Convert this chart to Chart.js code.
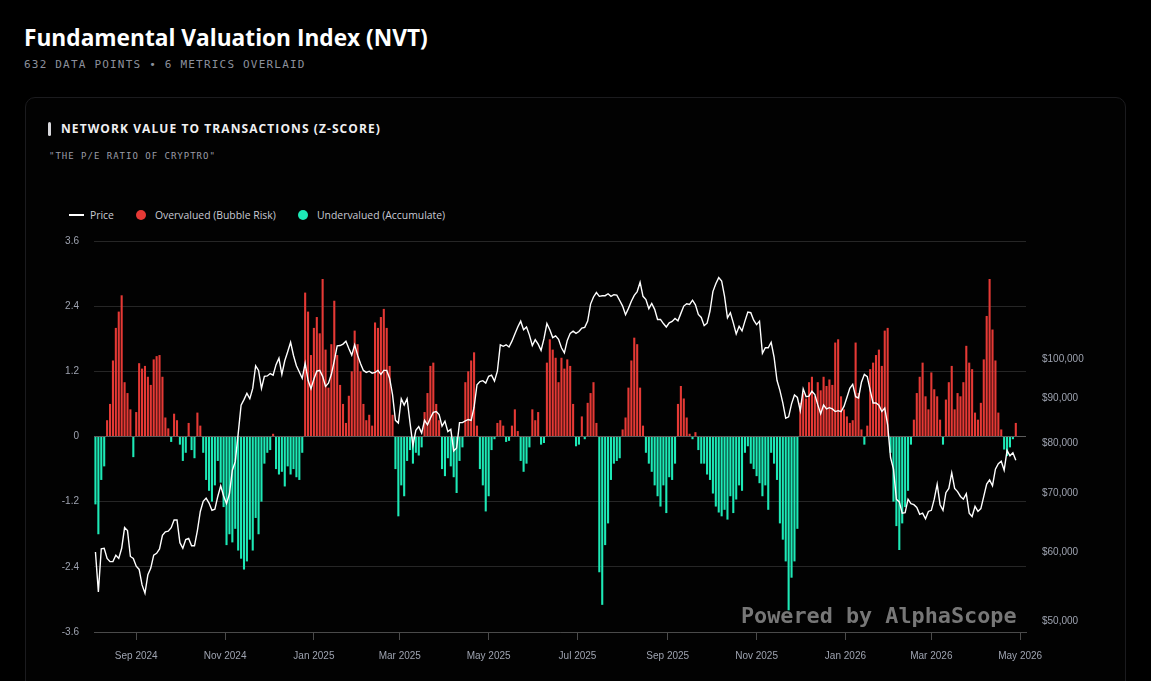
<!DOCTYPE html>
<html>
<head>
<meta charset="utf-8">
<script src="https://cdn.jsdelivr.net/npm/chart.js@4.4.1/dist/chart.umd.min.js"></script>
<style>
  html, body { margin: 0; padding: 0; background: #000; }
  body { width: 1151px; height: 681px; overflow: hidden; position: relative; font-family: "Open Sans", sans-serif; }
  .abs { position: absolute; white-space: nowrap; }
  #title { left: 24px; top: 23px; font-size: 22.7px; line-height: 30px; font-weight: 700; color: #fff; }
  #sub { left: 24px; top: 58px; font: 11px/14px "DejaVu Sans Mono", monospace; letter-spacing: 1.2px; color: #8c909c; }
  #card { left: 25px; top: 97px; width: 1099px; height: 640px; border: 1px solid #1b1b1e; border-radius: 10px; background: #020202; }
  #bar { left: 48px; top: 122px; width: 3px; height: 14px; background: #d8d8dc; border-radius: 2px; }
  #cardTitle { left: 61px; top: 121px; font-size: 12px; line-height: 16px; font-weight: 700; letter-spacing: 1.08px; color: #f0f0f2; }
  #quote { left: 49px; top: 150px; font: 9px/12px "DejaVu Sans Mono", monospace; letter-spacing: 1px; color: #9a9ca6; }
  .leg { top: 208px; font-size: 10.4px; line-height: 14px; color: #c8cad2; }
  .dot { position: absolute; width: 10px; height: 10px; border-radius: 50%; top: 210px; }
  #wrap { position: absolute; left: 30px; top: 219px; width: 1090px; height: 462px; }
  #mark { left: 741px; top: 605px; font: bold 21.8px/22px "DejaVu Sans Mono", monospace; color: #777; }
</style>
</head>
<body>
<div id="card" class="abs"></div>
<div id="title" class="abs">Fundamental Valuation Index (NVT)</div>
<div id="sub" class="abs">632 DATA POINTS • 6 METRICS OVERLAID</div>
<div id="bar" class="abs"></div>
<div id="cardTitle" class="abs">NETWORK VALUE TO TRANSACTIONS (Z-SCORE)</div>
<div id="quote" class="abs">"THE P/E RATIO OF CRYPTRO"</div>

<div class="abs" style="left:69px;top:214px;width:15px;height:2px;background:#fff"></div>
<div class="abs leg" style="left:90px">Price</div>
<div class="dot" style="left:136px;background:#e53935"></div>
<div class="abs leg" style="left:155px">Overvalued (Bubble Risk)</div>
<div class="dot" style="left:298px;background:#1de9b6"></div>
<div class="abs leg" style="left:317px">Undervalued (Accumulate)</div>

<div id="wrap"><canvas id="nvt"></canvas></div>
<div id="mark" class="abs">Powered by AlphaScope</div>

<script>
// one point every 2 days starting here
const START = '2024-08-04'
const STEP_DAYS = 2
const X_MIN = '2024-08-03'
const X_MAX = '2026-05-05'

// NVT z-score
const zScore = [
  -1.25, -1.8, -0.8, -0.55, 0.3, 0.6, 1.4, 2.0, 2.3, 2.6,
  1.0, 0.8, 0.5, -0.38, 0.45, 1.35, 1.25, 1.3, 1.1, 0.95,
  1.42, 1.48, 1.5, 1.1, 0.35, 0.15, -0.1, 0.42, 0.3, -0.15,
  -0.45, -0.3, 0.25, -0.25, -0.4, 0.44, 0.2, -0.3, -0.8, -1.0,
  -1.2, -0.9, -0.45, -0.85, -1.3, -2.0, -1.8, -1.95, -1.7, -2.1,
  -2.25, -2.45, -2.3, -1.9, -2.1, -1.5, -1.8, -1.2, -0.5, -0.3,
  -0.25, 0.05, -0.6, -0.7, -0.65, -0.92, -0.55, -0.7, -0.6, -0.75,
  -0.8, -0.3, 2.65, 2.3, 1.5, 2.0, 2.2, 1.9, 2.9, 1.6,
  0.9, 1.7, 2.5, 1.5, 0.95, 0.6, 0.25, 0.75, 1.2, 1.95,
  1.7, 1.2, 0.6, 0.3, 0.4, 0.2, 2.1, 2.0, 2.2, 2.35,
  2.0, 1.3, 0.4, -0.6, -1.47, -0.9, -1.1, -0.45, -0.25, -0.5,
  -0.3, -0.35, -0.2, 0.45, 0.8, 1.3, 1.36, 0.6, 0.3, -0.6,
  -0.73, -0.4, -0.55, -0.75, -1.04, -0.45, -0.2, 1.0, 1.2, 1.4,
  1.55, 0.2, -0.6, -0.9, -1.38, -1.1, -0.25, -0.05, 0.25, 0.3,
  0.2, -0.1, -0.08, 0.2, 0.5, 0.1, -0.45, -0.65, -0.5, -0.2,
  0.5, 0.3, 0.45, -0.15, -0.12, 1.36, 1.79, 1.6, 1.45, 1.0,
  1.45, 1.25, 1.42, 1.3, 0.6, -0.18, -0.15, 0.37, -0.05, 0.62,
  0.8, 1.0, 0.25, -2.5, -3.1, -2.0, -1.6, -0.8, -0.5, -0.45,
  -0.4, 0.13, 0.35, 0.9, 1.4, 1.82, 1.7, 0.9, 0.2, -0.3,
  -0.5, -0.65, -0.9, -1.1, -1.29, -0.9, -1.41, -0.75, -0.8, -0.5,
  0.6, 0.93, 0.7, 0.35, 0.05, -0.05, 0.08, -0.25, -0.5, -0.5,
  -0.7, -0.8, -1.05, -1.29, -1.4, -1.47, -1.35, -1.53, -1.1, -1.41,
  -1.16, -0.9, -1.0, -0.3, -0.18, -0.5, -0.6, -0.73, -0.86, -1.1,
  -0.9, -1.35, -0.3, -0.5, -0.8, -1.6, -1.9, -2.3, -3.2, -2.6,
  -2.3, -1.7, 0.62, 0.8, 0.7, 1.0, 1.1, 0.74, 1.0, 0.85,
  1.1, 0.93, 1.05, 0.95, 1.73, 1.79, 0.74, 0.5, 0.37, 0.25,
  0.3, 1.73, 0.8, 0.13, -0.15, 0.2, 1.24, 1.36, 1.5, 1.6,
  1.3, 1.95, 2.0, -0.3, -1.2, -1.65, -2.09, -1.6, -1.3, -1.0,
  -0.15, 0.31, 0.8, 1.1, 1.36, 0.74, 0.5, 1.18, 0.87, 0.74,
  0.31, -0.15, 0.68, 1.0, 1.3, 0.5, 0.8, 0.74, 1.0, 1.67,
  1.36, 1.24, 0.44, 0.31, 0.62, 1.42, 2.22, 2.9, 1.97, 1.4,
  0.44, 0.13, -0.24, -0.36, -0.2, -0.05, 0.25
]

// BTC price in thousands of USD
const priceK = [
  60.0, 54.0, 60.5, 60.6, 59.0, 58.5, 58.5, 59.5, 59.0, 60.6,
  64.0, 63.5, 59.3, 59.0, 57.8, 57.3, 55.0, 53.8, 56.5, 57.5,
  59.5, 59.8, 60.5, 62.7, 63.3, 63.4, 64.0, 65.3, 65.3, 61.5,
  60.6, 62.0, 62.2, 61.0, 61.0, 63.5, 66.8, 68.6, 69.2, 68.3,
  67.0, 67.2, 69.5, 71.5, 69.6, 68.2, 70.0, 74.5, 76.2, 82.0,
  88.5, 89.8, 91.3, 90.0, 92.5, 98.2, 97.0, 92.5, 95.5, 95.6,
  96.2, 95.8, 98.5, 100.2, 96.0, 99.5, 101.9, 104.5, 100.9, 98.2,
  96.6, 95.0, 98.9, 94.5, 92.4, 94.8, 96.8, 97.0, 95.5, 93.0,
  93.8, 96.0, 99.5, 103.5, 103.6, 104.0, 104.8, 102.8, 101.0, 103.8,
  101.0, 98.8, 97.0, 96.5, 96.8, 96.3, 96.5, 97.0, 96.0, 97.0,
  97.0, 95.0, 91.0, 85.0, 84.4, 90.0, 88.5, 90.0, 84.5, 79.5,
  82.8, 83.6, 82.2, 85.0, 84.0, 85.5, 86.8, 87.0, 86.3, 83.7,
  84.8, 82.5, 83.0, 78.4, 79.0, 84.5, 84.5, 84.9, 85.2, 85.0,
  88.0, 93.4, 94.2, 94.4, 93.8, 95.5, 95.8, 94.3, 96.8, 103.8,
  103.4, 103.8, 103.2, 104.8, 106.8, 108.8, 110.5, 108.0, 108.8, 106.5,
  103.6, 105.2, 104.0, 102.3, 105.5, 109.8, 108.0, 105.8, 106.3, 105.3,
  103.0, 101.6, 105.0, 107.0, 107.6, 107.0, 107.5, 108.5, 108.7, 110.5,
  115.6, 117.8, 119.2, 118.0, 118.2, 118.2, 118.8, 118.0, 118.5, 118.4,
  116.7, 115.0, 112.4, 114.3, 116.5, 118.3, 119.5, 122.5, 118.0, 117.0,
  114.2, 115.8, 114.0, 111.0, 111.0, 109.8, 108.8, 110.0, 110.4, 111.3,
  110.6, 112.8, 115.0, 115.7, 115.5, 116.8, 115.4, 112.5, 111.6, 109.2,
  109.9, 113.5, 119.5, 122.0, 124.0, 122.9, 118.0, 111.5, 113.0, 110.0,
  106.8, 109.0, 107.7, 110.5, 113.2, 113.0, 110.8, 109.5, 110.5, 101.5,
  103.0, 103.0, 104.5, 100.5, 94.5, 92.0, 89.0, 85.5, 85.8, 88.8,
  90.9, 90.3, 87.2, 92.4, 90.5, 90.6, 91.8, 91.0, 88.6, 86.5,
  88.5, 87.6, 87.9, 87.6, 87.0, 87.2, 87.0, 88.2, 90.3, 92.5,
  93.5, 90.5, 90.2, 94.0, 96.0, 95.4, 92.0, 89.0, 89.0, 88.5,
  87.0, 87.8, 84.0, 77.0, 74.7, 69.0, 68.5, 66.5, 66.6, 69.0,
  68.2, 68.0, 67.5, 66.3, 66.5, 65.5, 66.8, 67.0, 69.0, 71.8,
  68.0, 67.0, 70.2, 71.0, 74.0, 71.0, 70.4, 69.5, 69.0, 70.0,
  66.5, 65.9, 67.7, 66.8, 67.3, 69.5, 71.8, 72.6, 71.5, 74.7,
  75.8, 76.3, 74.5, 78.5, 77.4, 78.0, 76.5
]

const zTicks = [-3.6, -2.4, -1.2, 0, 1.2, 2.4, 3.6]
const priceTicks = [50000, 60000, 70000, 80000, 90000, 100000]
const monthTickDates = ['2024-09-01', '2024-11-01', '2025-01-01', '2025-03-01', '2025-05-01', '2025-07-01',
  '2025-09-01', '2025-11-01', '2026-01-01', '2026-03-01', '2026-05-01']
const monthTickLabels = ['Sep 2024', 'Nov 2024', 'Jan 2025', 'Mar 2025', 'May 2025', 'Jul 2025',
  'Sep 2025', 'Nov 2025', 'Jan 2026', 'Mar 2026', 'May 2026']

const DAY = 86400000
const t0 = Date.parse(START)
const xs = zScore.map((_, i) => t0 + i * STEP_DAYS * DAY)

const RED = '#e53935'
const TEAL = '#1de9b6'
const TICK = '#9ea3b0'
const tickFont = { family: 'Liberation Sans', size: 10 }

new Chart(document.getElementById('nvt'), {
  type: 'bar',
  data: {
    datasets: [
      {
        type: 'line', label: 'Price', yAxisID: 'y1', order: 0,
        data: priceK.map((p, i) => ({ x: xs[i], y: p * 1000 })),
        borderColor: '#ffffff', borderWidth: 1.4, pointRadius: 0, tension: 0
      },
      {
        label: 'Overvalued (Bubble Risk)', yAxisID: 'y', order: 1,
        data: zScore.map((z, i) => ({ x: xs[i], y: z > 0 ? z : null })),
        backgroundColor: RED
      },
      {
        label: 'Undervalued (Accumulate)', yAxisID: 'y', order: 1,
        data: zScore.map((z, i) => ({ x: xs[i], y: z < 0 ? z : null })),
        backgroundColor: TEAL
      }
    ]
  },
  options: {
    responsive: true,
    maintainAspectRatio: false,
    animation: false,
    layout: { padding: { top: 9, left: 0, right: 0, bottom: 0 } },
    datasets: { bar: { grouped: false, barPercentage: 0.72, categoryPercentage: 1 } },
    plugins: { legend: { display: false }, tooltip: { enabled: false } },
    scales: {
      x: {
        type: 'linear', offset: false,
        min: Date.parse(X_MIN), max: Date.parse(X_MAX),
        afterBuildTicks: s => { s.ticks = monthTickDates.map(d => ({ value: Date.parse(d) })) },
        afterFit: s => { s.height = 49 },
        ticks: {
          autoSkip: false, maxRotation: 0, color: TICK, font: tickFont, padding: 10,
          callback: (v, i) => monthTickLabels[i]
        },
        grid: { display: true, drawOnChartArea: false, drawTicks: true, tickLength: 8, color: '#4a4a4a', offset: false },
        border: { display: true, color: '#4a4a4a' }
      },
      y: {
        position: 'left', min: -3.6, max: 3.6,
        afterBuildTicks: s => { s.ticks = zTicks.map(v => ({ value: v })) },
        afterFit: s => { s.width = 64 },
        ticks: { color: TICK, font: tickFont, padding: 15, callback: v => v === 0 ? '0' : v.toFixed(1) },
        grid: { drawTicks: false, color: c => c.tick && c.tick.value === 0 ? '#5c5c5c' : '#262626' },
        border: { display: false }
      },
      y1: {
        type: 'logarithmic', position: 'right', min: 48560, max: 136600,
        afterBuildTicks: s => { s.ticks = priceTicks.map(v => ({ value: v })) },
        afterFit: s => { s.width = 94 },
        ticks: { color: TICK, font: tickFont, padding: 16, callback: v => '$' + v.toLocaleString('en-US') },
        grid: { display: false, drawTicks: false },
        border: { display: false }
      }
    }
  }
})
</script>
</body>
</html>
